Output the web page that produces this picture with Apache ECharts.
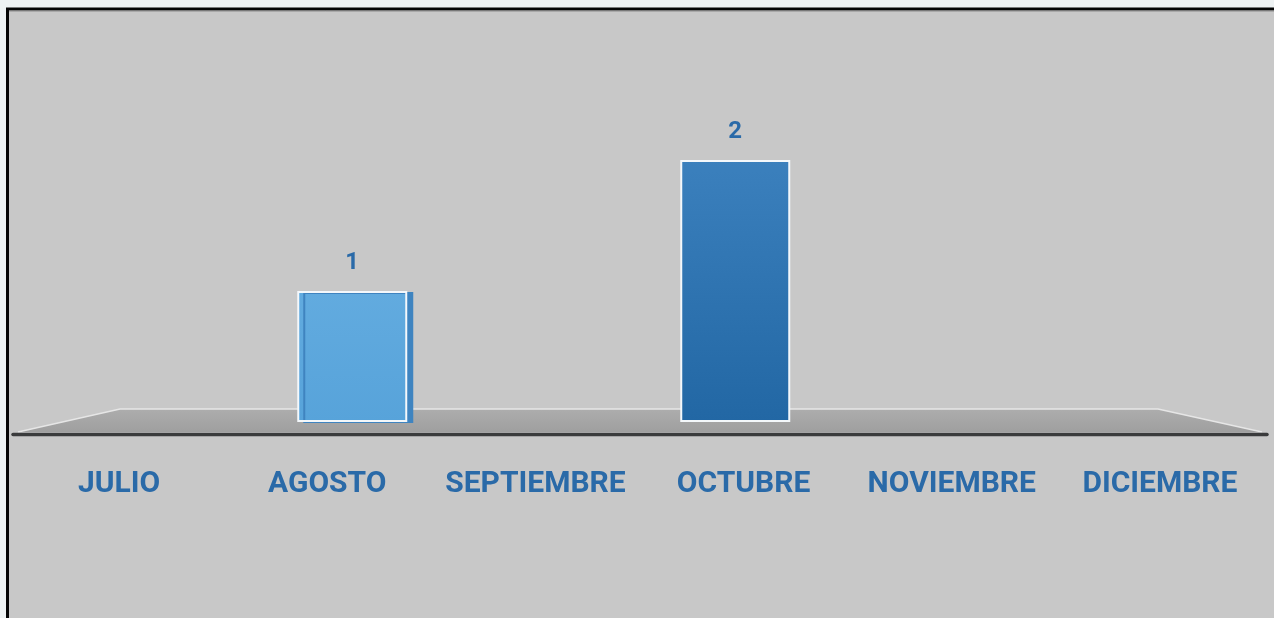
<!DOCTYPE html>
<html>
<head>
<meta charset="utf-8">
<style>
  html, body { margin: 0; padding: 0; background: #eef2f3; }
  #chart { width: 1274px; height: 618px; }
</style>
<script src="https://cdn.jsdelivr.net/npm/echarts@6/dist/echarts.min.js"></script>
</head>
<body>
<div id="chart"></div>
<script>
const months = ['JULIO', 'AGOSTO', 'SEPTIEMBRE', 'OCTUBRE', 'NOVIEMBRE', 'DICIEMBRE']
const counts = [0, 1, 0, 2, 0, 0]

const blue = '#2a6aa8'
const lightFill = new echarts.graphic.LinearGradient(0, 0, 0, 1, [
  { offset: 0, color: '#62abdf' },
  { offset: 1, color: '#57a3da' },
])
const darkFill = new echarts.graphic.LinearGradient(0, 0, 0, 1, [
  { offset: 0, color: '#3b80bd' },
  { offset: 1, color: '#2267a4' },
])

// zero months get no bar at all
const barData = counts.map((v, i) => {
  if (!v) return '-'
  const light = i === 1
  return {
    value: v,
    itemStyle: light
      ? { color: lightFill, shadowColor: '#3f84c0', shadowOffsetX: 6, shadowOffsetY: 1, shadowBlur: 0 }
      : { color: darkFill },
  }
})

const chart = echarts.init(document.getElementById('chart'), null, { renderer: 'canvas' })

chart.setOption({
  backgroundColor: '#eef2f3',
  animation: false,
  graphic: [
    // panel
    {
      type: 'rect',
      z: -10,
      shape: { x: 7.5, y: 9, width: 1300, height: 700 },
      style: { fill: '#c8c8c8', stroke: '#050505', lineWidth: 3 },
    },
    {
      type: 'line',
      z: -9,
      shape: { x1: 9, y1: 11, x2: 1274, y2: 11 },
      style: { stroke: '#8a8a8a', lineWidth: 1 },
    },
    // floor
    {
      type: 'polygon',
      z: -8,
      shape: { points: [[120, 409], [1158, 409], [1262, 432], [18, 432]] },
      style: {
        fill: new echarts.graphic.LinearGradient(0, 0, 0, 1, [
          { offset: 0, color: '#adadad' },
          { offset: 1, color: '#9f9f9f' },
        ]),
      },
    },
    {
      type: 'polyline',
      z: -7,
      shape: { points: [[18, 432], [120, 409], [1158, 409], [1262, 432]] },
      style: { stroke: '#e6e6e6', lineWidth: 1.5, fill: null },
    },
    {
      type: 'line',
      z: -6,
      shape: { x1: 13, y1: 434.5, x2: 1267, y2: 434.5 },
      style: { stroke: '#3a3b3c', lineWidth: 3.5, lineCap: 'round' },
    },
  ],
  grid: [
    { left: 15, right: 10, top: 94.5, bottom: 196 },
    { left: 65, right: 60, top: 94.5, bottom: 196 },
  ],
  xAxis: [
    {
      type: 'category',
      gridIndex: 0,
      data: months,
      axisLine: { show: false },
      axisTick: { show: false },
      axisLabel: {
        color: blue,
        fontFamily: 'Roboto',
        fontWeight: 'bold',
        fontSize: 30,
        lineHeight: 30,
        margin: 47,
        interval: 0,
      },
    },
    {
      type: 'category',
      gridIndex: 1,
      data: months,
      axisLine: { show: false },
      axisTick: { show: false },
      axisLabel: { show: false },
    },
  ],
  yAxis: [
    { type: 'value', gridIndex: 0, min: 0, max: 2.5, show: false, splitLine: { show: false } },
    { type: 'value', gridIndex: 1, min: 0, max: 2.5, show: false, splitLine: { show: false } },
  ],
  series: [
    {
      type: 'bar',
      xAxisIndex: 1,
      yAxisIndex: 1,
      data: barData,
      barWidth: 110,
      itemStyle: { borderColor: '#f4f8fb', borderWidth: 2 },
      label: {
        show: true,
        position: 'top',
        distance: 16,
        color: blue,
        fontFamily: 'Roboto',
        fontWeight: 'bold',
        fontSize: 24,
      },
    },
  ],
})
</script>
</body>
</html>
